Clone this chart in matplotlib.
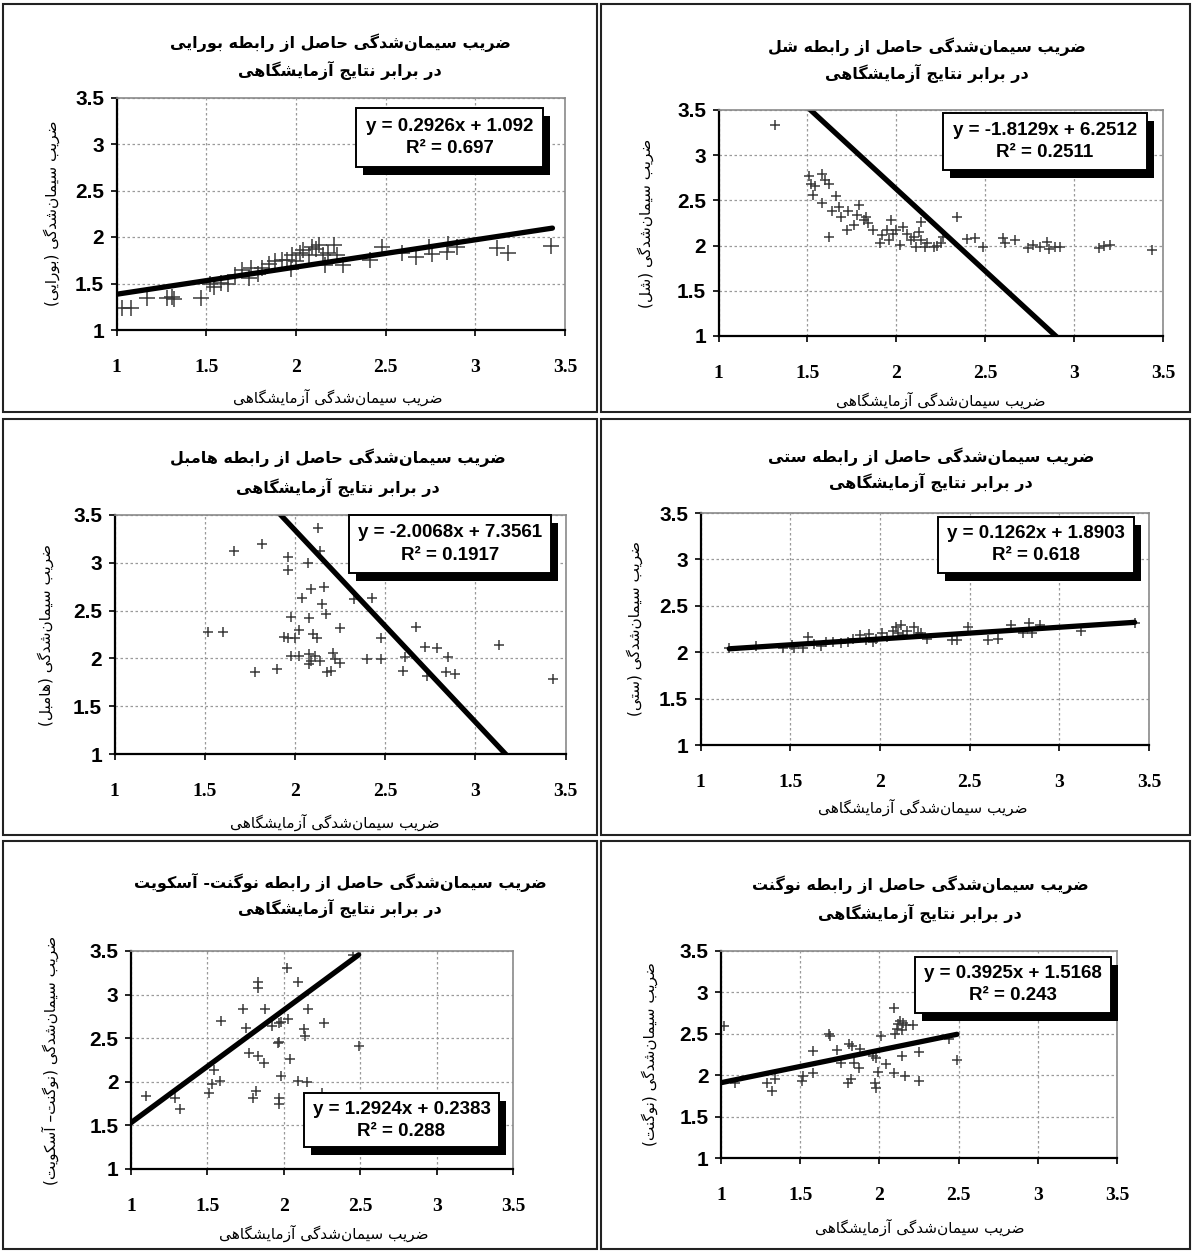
import matplotlib.pyplot as plt
from matplotlib.patches import Rectangle

# ---- data ----
borai_x = [1.03, 1.08, 1.17, 1.28, 1.31, 1.32, 1.47, 1.52, 1.54, 1.58, 1.62, 1.66, 1.70,
           1.74, 1.75, 1.79, 1.81, 1.85, 1.88, 1.92, 1.95, 1.97, 1.98, 2.00, 2.02, 2.04,
           2.07, 2.09, 2.11, 2.13, 2.15, 2.16, 2.18, 2.21, 2.23, 2.26, 2.41, 2.48, 2.59,
           2.67, 2.74, 2.76, 2.84, 2.85, 2.90, 3.12, 3.18, 3.42]
borai_y = [1.24, 1.24, 1.34, 1.34, 1.36, 1.33, 1.34, 1.49, 1.46, 1.51, 1.49, 1.59, 1.64,
           1.56, 1.67, 1.60, 1.67, 1.71, 1.74, 1.75, 1.75, 1.66, 1.81, 1.74, 1.83, 1.86,
           1.81, 1.89, 1.87, 1.91, 1.81, 1.70, 1.83, 1.91, 1.81, 1.70, 1.75, 1.89, 1.83,
           1.78, 1.89, 1.82, 1.84, 1.93, 1.89, 1.88, 1.83, 1.90]

shell_x = [1.32, 1.51, 1.52, 1.53, 1.54, 1.58, 1.60, 1.62, 1.58, 1.62, 1.64, 1.66, 1.68,
           1.69, 1.72, 1.73, 1.76, 1.79, 1.78, 1.82, 1.83, 1.84, 1.87, 1.91, 1.92, 1.95,
           1.97, 1.96, 1.98, 2.00, 2.02, 2.04, 2.06, 2.08, 2.10, 2.11, 2.13, 2.14, 2.16,
           2.17, 2.14, 2.21, 2.23, 2.25, 2.26, 2.34, 2.40, 2.44, 2.49, 2.60, 2.61, 2.67,
           2.74, 2.77, 2.81, 2.85, 2.86, 2.89, 2.92, 3.14, 3.17, 3.20, 3.44]
shell_y = [3.33, 2.77, 2.68, 2.56, 2.66, 2.79, 2.73, 2.68, 2.47, 2.10, 2.38, 2.55, 2.43,
           2.32, 2.17, 2.38, 2.23, 2.45, 2.34, 2.28, 2.32, 2.25, 2.17, 2.03, 2.12, 2.17,
           2.28, 2.06, 2.13, 2.17, 2.01, 2.21, 2.13, 2.06, 2.10, 1.99, 2.15, 2.06, 1.98,
           2.03, 2.26, 1.98, 2.00, 2.03, 2.09, 2.32, 2.07, 2.08, 1.99, 2.08, 2.03, 2.06,
           1.97, 2.01, 1.99, 2.04, 1.96, 1.99, 1.99, 1.97, 2.00, 2.01, 1.95]

hamel_x = [2.13, 1.82, 1.66, 1.96, 2.14, 2.07, 1.96, 2.09, 2.16, 2.04, 2.15, 2.33, 2.43,
           1.98, 2.08, 2.17, 2.02, 2.25, 1.52, 1.60, 1.94, 1.96, 2.00, 2.10, 2.12, 2.67,
           2.48, 2.72, 2.79, 2.85, 1.98, 2.02, 2.08, 2.11, 2.09, 2.08, 2.14, 2.21, 2.22,
           2.25, 2.18, 2.20, 2.40, 2.48, 2.61, 1.78, 1.90, 2.60, 2.84, 2.89, 2.73, 3.13, 3.43]
hamel_y = [3.36, 3.20, 3.12, 3.06, 3.12, 3.00, 2.92, 2.73, 2.75, 2.63, 2.57, 2.62, 2.63,
           2.43, 2.42, 2.46, 2.30, 2.32, 2.28, 2.28, 2.22, 2.21, 2.21, 2.26, 2.21, 2.33,
           2.21, 2.12, 2.11, 2.01, 2.03, 2.02, 2.05, 2.02, 1.97, 1.94, 1.97, 2.06, 1.99,
           1.95, 1.86, 1.87, 1.99, 1.99, 2.01, 1.86, 1.89, 1.87, 1.86, 1.84, 1.82, 2.14, 1.78]

seti_x = [1.16, 1.31, 1.46, 1.51, 1.52, 1.57, 1.60, 1.63, 1.67, 1.70, 1.74, 1.78, 1.82,
          1.85, 1.89, 1.92, 1.94, 1.96, 1.98, 2.01, 2.04, 2.07, 2.09, 2.10, 2.12, 2.13,
          2.15, 2.19, 2.21, 2.23, 2.26, 2.40, 2.43, 2.49, 2.60, 2.66, 2.73, 2.80, 2.83,
          2.85, 2.89, 3.12, 3.42]
seti_y = [2.05, 2.07, 2.05, 2.08, 2.04, 2.05, 2.16, 2.09, 2.07, 2.11, 2.11, 2.10, 2.11,
          2.14, 2.18, 2.13, 2.20, 2.11, 2.14, 2.21, 2.16, 2.23, 2.27, 2.21, 2.29, 2.18,
          2.23, 2.27, 2.21, 2.21, 2.14, 2.13, 2.13, 2.27, 2.13, 2.14, 2.29, 2.21, 2.31,
          2.21, 2.29, 2.23, 2.31]

nugask_x = [2.02, 2.09, 1.83, 1.83, 2.45, 1.73, 1.88, 2.16, 1.59, 1.75, 1.92, 1.97, 1.98,
            2.03, 2.13, 2.14, 2.26, 1.97, 1.96, 2.49, 1.77, 1.83, 1.87, 2.04, 1.54, 1.53,
            1.58, 1.51, 1.98, 2.09, 2.15, 1.82, 1.80, 1.97, 1.97, 2.25, 1.10, 1.29, 1.32]
nugask_y = [3.30, 3.15, 3.14, 3.07, 3.45, 2.84, 2.84, 2.83, 2.70, 2.62, 2.64, 2.67, 2.69,
            2.72, 2.60, 2.52, 2.67, 2.46, 2.44, 2.41, 2.33, 2.30, 2.21, 2.26, 2.13, 1.97,
            2.01, 1.87, 2.07, 2.01, 2.00, 1.90, 1.81, 1.81, 1.74, 1.87, 1.84, 1.81, 1.69]

nugent_x = [1.02, 1.09, 1.29, 1.32, 1.34, 1.51, 1.52, 1.58, 1.58, 1.68, 1.69, 1.73, 1.76,
            1.80, 1.82, 1.81, 1.83, 1.84, 1.88, 1.87, 1.96, 1.97, 1.98, 1.98, 1.99, 2.01,
            2.04, 2.09, 2.09, 2.10, 2.11, 2.12, 2.13, 2.14, 2.15, 2.14, 2.16, 2.17, 2.21,
            2.25, 2.25, 2.44, 2.49]
nugent_y = [2.59, 1.91, 1.91, 1.81, 1.96, 1.93, 1.99, 2.03, 2.29, 2.50, 2.47, 2.30, 2.15,
            1.91, 1.96, 2.38, 2.35, 2.15, 2.32, 2.09, 2.23, 1.91, 1.85, 2.21, 2.04, 2.47,
            2.13, 2.81, 2.03, 2.50, 2.56, 2.62, 2.66, 2.54, 2.63, 2.23, 1.99, 2.61, 2.61,
            2.28, 1.93, 2.44, 2.18]

slopes = [0.2926, -1.8129, -2.0068, 0.1262, 1.2924, 0.3925]
intercepts = [1.092, 6.2512, 7.3561, 1.8903, 0.2383, 1.5168]
r_squared = ["0.697", "0.2511", "0.1917", "0.618", "0.288", "0.243"]
trend_ranges = [(1.0, 3.43), (1.32, 3.44), (1.52, 3.43), (1.16, 3.42), (1.0, 2.49), (1.0, 2.49)]

method_names = ["بورایی", "شل", "هامبل", "ستی", "نوگنت- آسکویت", "نوگنت"]
ylabel_names = ["بورایی", "شل", "هامبل", "ستی", "نوگنت– آسکویت", "نوگنت"]
title_head = "ضریب سیمان\u200cشدگی حاصل از رابطه "
title_tail = "در برابر نتایج آزمایشگاهی"
ylabel_head = "ضریب سیمان\u200cشدگی "
xlabel_text = "ضریب سیمان\u200cشدگی آزمایشگاهی"

tick_values = [1, 1.5, 2, 2.5, 3, 3.5]
tick_labels = ["1", "1.5", "2", "2.5", "3", "3.5"]

# ---- minimal Persian shaping (matplotlib has no bidi/shaping) ----
FORMS = {
    '\u0622': ('\uFE81', '\uFE82', None, None),
    '\u0627': ('\uFE8D', '\uFE8E', None, None),
    '\u0628': ('\uFE8F', '\uFE90', '\uFE91', '\uFE92'),
    '\u062A': ('\uFE95', '\uFE96', '\uFE97', '\uFE98'),
    '\u062C': ('\uFE9D', '\uFE9E', '\uFE9F', '\uFEA0'),
    '\u062D': ('\uFEA1', '\uFEA2', '\uFEA3', '\uFEA4'),
    '\u062F': ('\uFEA9', '\uFEAA', None, None),
    '\u0631': ('\uFEAD', '\uFEAE', None, None),
    '\u0632': ('\uFEAF', '\uFEB0', None, None),
    '\u0633': ('\uFEB1', '\uFEB2', '\uFEB3', '\uFEB4'),
    '\u0634': ('\uFEB5', '\uFEB6', '\uFEB7', '\uFEB8'),
    '\u0635': ('\uFEB9', '\uFEBA', '\uFEBB', '\uFEBC'),
    '\u0636': ('\uFEBD', '\uFEBE', '\uFEBF', '\uFEC0'),
    '\u0637': ('\uFEC1', '\uFEC2', '\uFEC3', '\uFEC4'),
    '\u0644': ('\uFEDD', '\uFEDE', '\uFEDF', '\uFEE0'),
    '\u0645': ('\uFEE1', '\uFEE2', '\uFEE3', '\uFEE4'),
    '\u0646': ('\uFEE5', '\uFEE6', '\uFEE7', '\uFEE8'),
    '\u0647': ('\uFEE9', '\uFEEA', '\uFEEB', '\uFEEC'),
    '\u0648': ('\uFEED', '\uFEEE', None, None),
    '\u06A9': ('\uFB8E', '\uFB8F', '\uFB90', '\uFB91'),
    '\u06AF': ('\uFB92', '\uFB93', '\uFB94', '\uFB95'),
    '\u06CC': ('\uFBFC', '\uFBFD', '\uFBFE', '\uFBFF'),
}
MIRROR = {'(': ')', ')': '('}


def shape(text):
    chars = [{'\u064A': '\u06CC', '\u0643': '\u06A9'}.get(c, c) for c in text]
    out = []
    for i, c in enumerate(chars):
        if c == '\u200c':
            continue
        if c not in FORMS:
            out.append(MIRROR.get(c, c))
            continue
        iso, fin, ini, med = FORMS[c]
        prev_join = i > 0 and chars[i - 1] in FORMS and FORMS[chars[i - 1]][2] is not None
        next_join = ini is not None and i + 1 < len(chars) and chars[i + 1] in FORMS
        if prev_join and next_join:
            out.append(med)
        elif prev_join:
            out.append(fin)
        elif next_join:
            out.append(ini)
        else:
            out.append(iso)
    return ''.join(reversed(out))


# ---- layout (pixels in the 1194x1252 picture) ----
W, H = 1194, 1252
axes_px = [(116.7, 97.5, 565, 330), (718.5, 110, 1163, 336),
           (114.5, 515, 565.5, 754), (700.6, 513, 1149, 745),
           (131, 951, 513, 1169), (721, 951, 1117, 1158)]
title_px = [(340, 43, 70), (927, 47, 73), (338, 458, 487),
            (931, 457, 482), (340, 882, 908), (920, 885, 913)]
xlabel_px = [(338, 397), (941, 400), (335, 822), (923, 807), (324, 1233), (920, 1227)]
ylabel_px = [52, 646, 46, 635, 50, 650]
box_px = [(356, 108, 543, 167), (943, 113, 1147, 170), (349, 515, 551, 573),
          (938, 517, 1134, 573), (304, 1093, 499, 1147), (915, 957, 1111, 1013)]
panel_px = [(3, 4, 597, 412), (601, 4, 1190, 412), (3, 419, 597, 835),
            (601, 419, 1190, 835), (3, 841, 597, 1249), (601, 841, 1190, 1249)]
marker_sizes = [11, 7.5, 7.5, 7.5, 7.5, 7.5]

xs = [borai_x, shell_x, hamel_x, seti_x, nugask_x, nugent_x]
ys = [borai_y, shell_y, hamel_y, seti_y, nugask_y, nugent_y]

fig = plt.figure(figsize=(W / 100, H / 100), dpi=100)


def fx(x):
    return x / W


def fy(y):
    return 1 - y / H


persian = ['DejaVu Sans']

for k in range(6):
    pl, pt, pr, pb = panel_px[k]
    fig.add_artist(Rectangle((fx(pl), fy(pb)), (pr - pl) / W, (pb - pt) / H,
                             transform=fig.transFigure, fill=False,
                             edgecolor='#222222', linewidth=1.5, zorder=0))

    l, t, r, b = axes_px[k]
    ax = fig.add_axes([fx(l), fy(b), (r - l) / W, (b - t) / H])
    ax.set_xlim(1, 3.5)
    ax.set_ylim(1, 3.5)
    ax.set_xticks(tick_values)
    ax.set_yticks(tick_values)
    ax.set_xticklabels(tick_labels, fontfamily='Liberation Serif',
                       fontweight='bold', fontsize=14)
    ax.set_yticklabels(tick_labels, fontfamily='Liberation Sans',
                       fontweight='bold', fontsize=15)
    ax.tick_params(axis='x', direction='out', length=4, width=1.2, pad=17)
    ax.tick_params(axis='y', direction='out', length=4, width=1.2, pad=5)
    ax.grid(True, color='#9a9a9a', linestyle=(0, (2, 2)), linewidth=0.9)
    ax.set_axisbelow(True)
    for side in ['top', 'right']:
        ax.spines[side].set_color('#8a8a8a')
        ax.spines[side].set_linewidth(1.2)
    for side in ['left', 'bottom']:
        ax.spines[side].set_color('black')
        ax.spines[side].set_linewidth(1.6)

    ax.plot(xs[k], ys[k], linestyle='none', marker='+', color='#3a3a3a',
            markersize=marker_sizes[k], markeredgewidth=1.1)
    x0, x1 = trend_ranges[k]
    ax.plot([x0, x1], [slopes[k] * x0 + intercepts[k], slopes[k] * x1 + intercepts[k]],
            color='black', linewidth=3.8, solid_capstyle='round')

    # titles and axis labels
    cx, y1, y2 = title_px[k]
    fig.text(fx(cx), fy(y1), shape(title_head + method_names[k]), ha='center', va='center',
             fontsize=11.5, fontweight='bold', family=persian)
    fig.text(fx(cx), fy(y2), shape(title_tail), ha='center', va='center',
             fontsize=11.5, fontweight='bold', family=persian)
    lx, ly = xlabel_px[k]
    fig.text(fx(lx), fy(ly), shape(xlabel_text), ha='center', va='center',
             fontsize=11, family=persian)
    fig.text(fx(ylabel_px[k]), fy((t + b) / 2),
             shape(ylabel_head + '(' + ylabel_names[k] + ')'),
             ha='center', va='center', rotation=90, fontsize=11, family=persian)

    # equation box with drop shadow
    bl, bt, br, bb = box_px[k]
    fig.add_artist(Rectangle((fx(bl + 7), fy(bb + 8)), (br - bl) / W, (bb - bt) / H,
                             transform=fig.transFigure, facecolor='black',
                             edgecolor='none', zorder=5))
    fig.add_artist(Rectangle((fx(bl), fy(bb)), (br - bl) / W, (bb - bt) / H,
                             transform=fig.transFigure, facecolor='white',
                             edgecolor='black', linewidth=1.4, zorder=6))
    sign = '+' if intercepts[k] >= 0 else '-'
    eq = f"y = {slopes[k]}x {sign} {abs(intercepts[k])}"
    bcx = (bl + br) / 2
    bcy = (bt + bb) / 2
    fig.text(fx(bcx), fy(bcy - 11), eq, ha='center', va='center', fontsize=13.5,
             fontweight='bold', family='Liberation Sans', zorder=7)
    fig.text(fx(bcx), fy(bcy + 11), f"R² = {r_squared[k]}", ha='center', va='center',
             fontsize=13.5, fontweight='bold', family='Liberation Sans', zorder=7)

fig.savefig('out.png', dpi=100, facecolor='white')
